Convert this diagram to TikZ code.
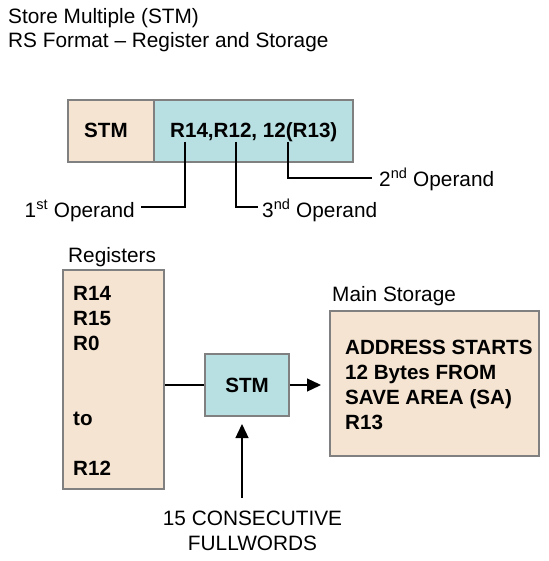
\documentclass[tikz,border=0pt]{standalone}
\usepackage{fontspec}
\setmainfont{Liberation Sans}
\usetikzlibrary{arrows.meta}
\definecolor{beige}{HTML}{F5E4D1}
\definecolor{cyanbox}{HTML}{B8DFE1}
\definecolor{edgegray}{HTML}{808080}
\begin{document}
\begin{tikzpicture}[x=1pt,y=-1pt,
  box/.style={draw=edgegray, line width=1.5pt, inner sep=0pt},
  txt/.style={anchor=base west, inner sep=0pt, font=\fontsize{20.8}{25}\selectfont},
  btxt/.style={anchor=base west, inner sep=0pt, font=\fontsize{20.6}{25}\selectfont\bfseries},
  ctxt/.style={anchor=base, inner sep=0pt, font=\fontsize{20.8}{25}\selectfont},
  lead/.style={line width=1.2pt},
  arr/.style={line width=1.3pt, -{Triangle[length=14pt,width=13pt]}}]
\useasboundingbox (0,0) rectangle (548,561);
% title
\node[txt] (t1) at (8,24) {Store Multiple (STM)};
\node[txt] (t2) at (8,48) {RS Format -- Register and Storage};
% top format boxes
\node[box, fill=beige, minimum width=86pt, minimum height=62pt] (stm1) at (111,131) {};
\node[box, fill=cyanbox, minimum width=199pt, minimum height=62pt] (opbox) at (253.5,131) {};
\node[btxt] (stm1t) at (84,138) {STM};
\node[btxt] (opt) at (170,138) {R14,R12, 12(R13)};
% operand labels
\node[txt, anchor=base east] (op1) at (135,217) {1\textsuperscript{st} Operand};
\node[txt] (op3) at (262,217) {3\textsuperscript{nd} Operand};
\node[txt] (op2) at (379,186) {2\textsuperscript{nd} Operand};
\coordinate (c1) at (185,142);
\coordinate (c3) at (236,142);
\coordinate (c2) at (288,142);
\coordinate (e1) at (141,207);
\coordinate (e3) at (258,207);
\coordinate (e2) at (372,178);
\draw[lead] (c1) |- (e1);
\draw[lead] (c3) |- (e3);
\draw[lead] (c2) |- (e2);
% registers
\node[txt] (reglbl) at (68,262) {Registers};
\node[box, fill=beige, minimum width=101pt, minimum height=219pt] (regs) at (113.5,379.5) {};
\node[btxt] (r14) at (73,300) {R14};
\node[btxt] (r15) at (73,325) {R15};
\node[btxt] (r0) at (73,350) {R0};
\node[btxt] (rto) at (73,425) {to};
\node[btxt] (r12) at (73,475) {R12};
% STM middle
\node[box, fill=cyanbox, minimum width=84pt, minimum height=62pt] (stm2) at (247,385) {};
\node[btxt, anchor=base] (stm2t) at (247,392) {STM};
% main storage
\node[txt] (memlbl) at (332,301) {Main Storage};
\node[box, fill=beige, minimum width=209pt, minimum height=145pt] (mem) at (434.5,383.5) {};
\node[btxt] (m1) at (345,354) {ADDRESS STARTS};
\node[btxt] (m2) at (345,379) {12 Bytes FROM};
\node[btxt] (m3) at (345,404) {SAVE AREA (SA)};
\node[btxt] (m4) at (345,429) {R13};
% bottom text
\node[ctxt] (fw1) at (252.5,525) {15 CONSECUTIVE};
\node[ctxt] (fw2) at (252.5,550) {FULLWORDS};
% connectors
\draw[lead] (regs.east |- stm2.west) -- (stm2.west);
\coordinate (tipm) at (321,385);
\draw[arr] (stm2.east) -- (tipm);
\coordinate (upstart) at (242,498);
\coordinate (uptip) at (242,424);
\draw[arr] (upstart) -- (uptip);
\end{tikzpicture}
\end{document}
